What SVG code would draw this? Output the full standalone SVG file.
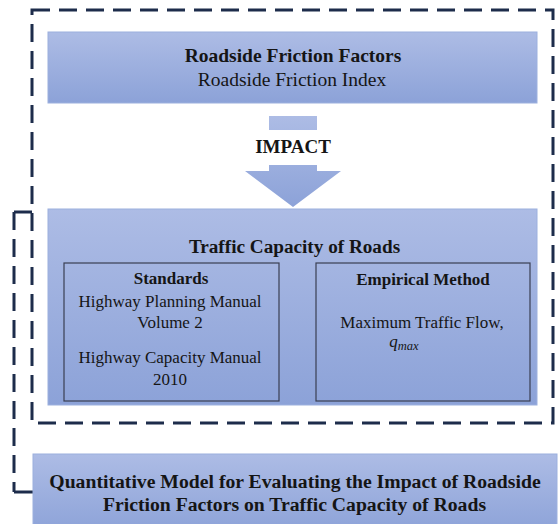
<svg xmlns="http://www.w3.org/2000/svg" width="559" height="524" viewBox="0 0 559 524">
  <defs>
    <linearGradient id="boxFill" x1="0" y1="0" x2="0" y2="1">
      <stop offset="0" stop-color="#adbce5"/>
      <stop offset="1" stop-color="#8ca2d8"/>
    </linearGradient>
    <style>
      .box { fill: url(#boxFill); stroke: #9cb0de; stroke-width: 1; }
      .inner { fill: none; stroke: #3a3f52; stroke-width: 1.2; }
      .dash { fill: none; stroke: #1d2c4b; stroke-width: 3; stroke-dasharray: 18 9; }
      .solid { fill: none; stroke: #1d2c4b; stroke-width: 3; }
      text { fill: #151515; text-anchor: middle; }
      .b { font-weight: bold; }
      .t19 { font-size: 19.5px; }
      .t17 { font-size: 17px; }
    </style>
  </defs>
  <rect width="559" height="524" fill="#ffffff"/>

  <!-- dashed boundary around factors and capacity -->
  <g id="scope-frame">
    <rect class="dash" x="32" y="10" width="521" height="413"/>
  </g>

  <g id="connectors" font-family="'Liberation Serif', Tinos, 'DejaVu Serif', serif">
    <!-- link from the frame down to the model box -->
    <path class="solid" d="M32,212 H14"/>
    <path class="dash" d="M14,212 V492"/>
    <path class="solid" d="M14,492 H33"/>
    <!-- block arrow: impact -->
    <polygon fill="url(#boxFill)" points="269,116 317,116 317,171 341,171 293,207 245,171 269,171"/>
    <rect x="262" y="130" width="62" height="35" fill="#ffffff"/>
    <text class="b" x="293" y="153" font-size="19">IMPACT</text>
  </g>

  <g id="roadside-friction" font-family="'Liberation Serif', Tinos, 'DejaVu Serif', serif">
    <rect class="box" x="48" y="32" width="489" height="71"/>
    <text class="b t19" x="293" y="62">Roadside Friction Factors</text>
    <text class="t19" x="292" y="86">Roadside Friction Index</text>
  </g>

  <g id="traffic-capacity" font-family="'Liberation Serif', Tinos, 'DejaVu Serif', serif">
    <rect class="box" x="48" y="209" width="489" height="196"/>
    <text class="b" x="294.5" y="253" font-size="19.2">Traffic Capacity of Roads</text>
  </g>

  <g id="standards" font-family="'Liberation Serif', Tinos, 'DejaVu Serif', serif">
    <rect class="inner" x="64" y="263" width="215" height="138"/>
    <text class="b t17" x="171" y="284">Standards</text>
    <text class="t17" x="170" y="307">Highway Planning Manual</text>
    <text class="t17" x="170" y="328">Volume 2</text>
    <text class="t17" x="170" y="363">Highway Capacity Manual</text>
    <text class="t17" x="170" y="385">2010</text>
  </g>

  <g id="empirical-method" font-family="'Liberation Serif', Tinos, 'DejaVu Serif', serif">
    <rect class="inner" x="316" y="263" width="214" height="138"/>
    <text class="b t17" x="423" y="285">Empirical Method</text>
    <text class="t17" x="422" y="328">Maximum Traffic Flow,</text>
    <text x="404" y="347" font-size="17" font-style="italic" text-anchor="start">q<tspan dy="3" font-size="12.5">max</tspan></text>
  </g>

  <g id="quantitative-model" font-family="'Liberation Serif', Tinos, 'DejaVu Serif', serif">
    <rect class="box" x="33" y="454" width="524" height="80"/>
    <text class="b" x="295" y="488" font-size="19.7">Quantitative Model for Evaluating the Impact of Roadside</text>
    <text class="b" x="294.5" y="511" font-size="19.7">Friction Factors on Traffic Capacity of Roads</text>
  </g>
</svg>
